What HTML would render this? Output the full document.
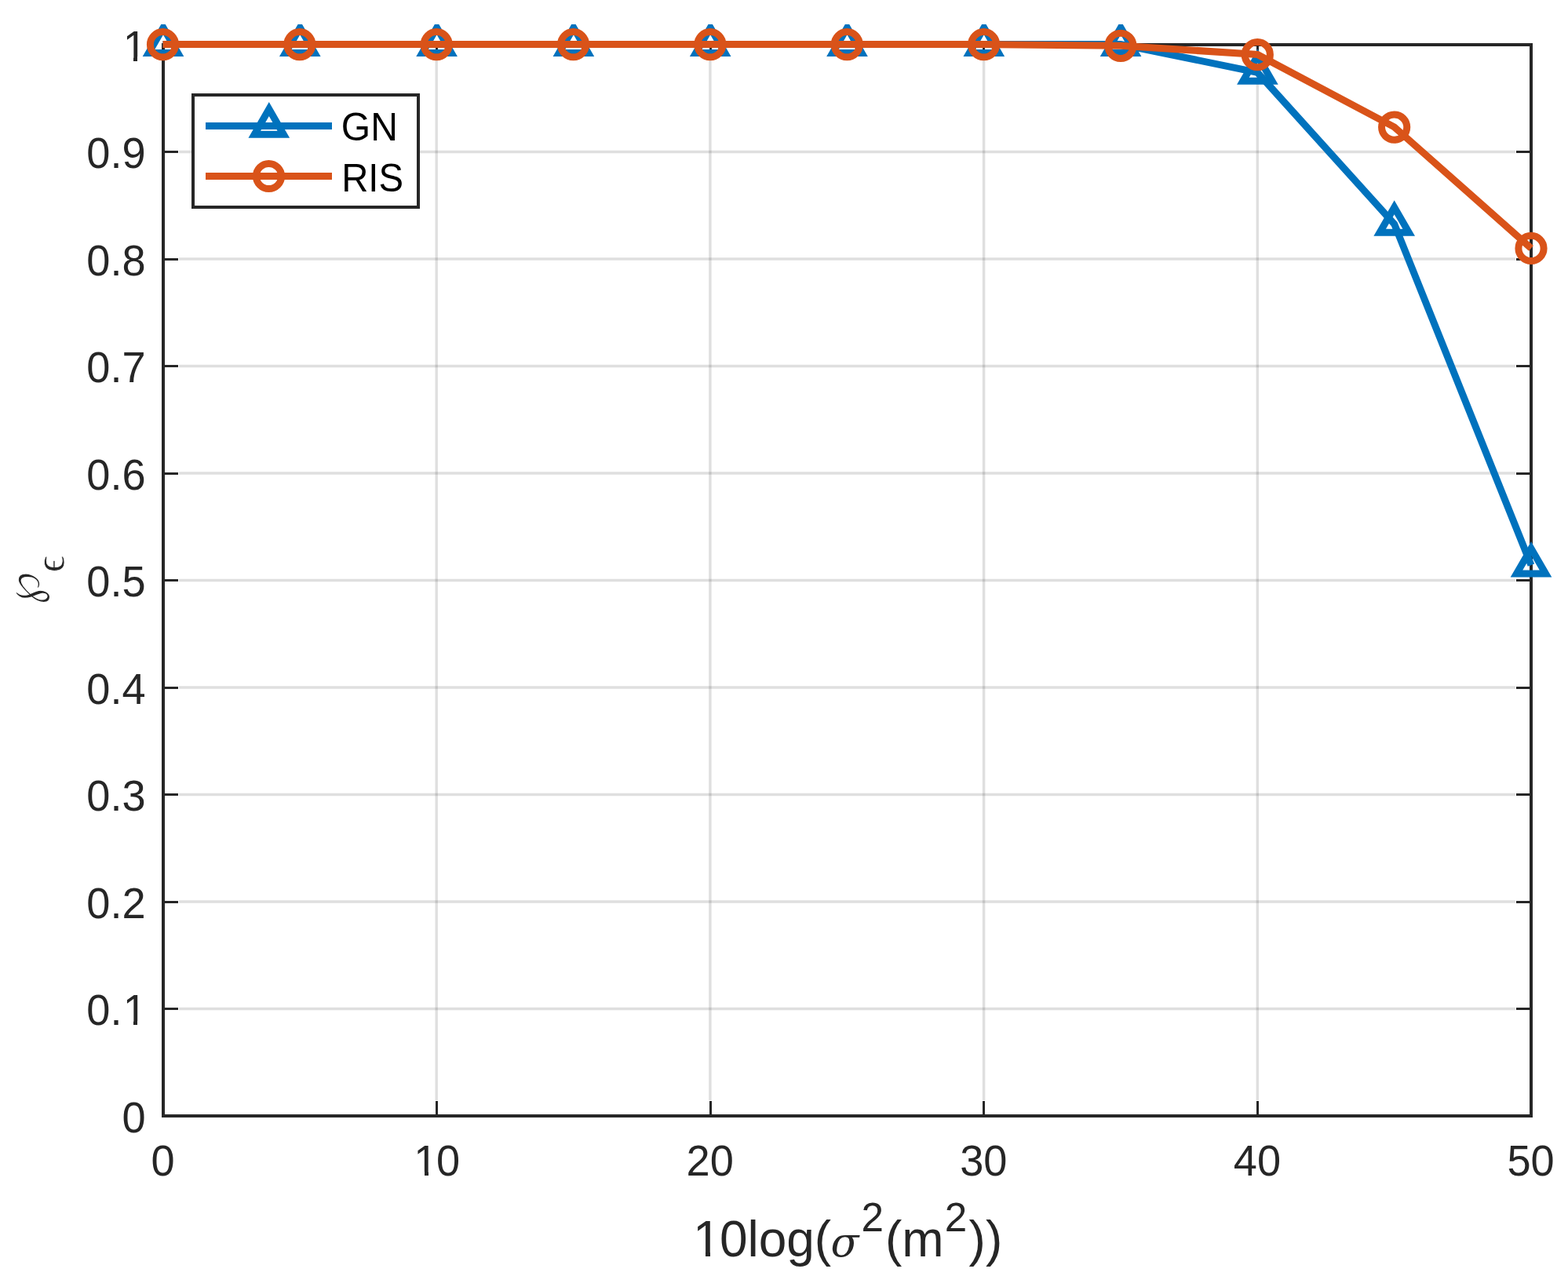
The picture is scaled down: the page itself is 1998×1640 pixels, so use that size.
<!DOCTYPE html>
<html lang="en">
<head>
<meta charset="utf-8">
<title>Success probability versus 10log(σ²(m²)) — GN vs RIS</title>
<style>
html,body{margin:0;padding:0;background:#fff;}
body{width:1998px;height:1640px;overflow:hidden;}
svg{display:block;}
text{font-family:"Liberation Sans",sans-serif;}
.tick{font-size:54.17px;fill:#262626;}
.lab{font-size:64.00px;fill:#262626;}
.leg{font-size:48.75px;fill:#000;}
.sup{font-size:51.2px;fill:#262626;}
.sig{font-family:"DejaVu Serif","Liberation Serif",serif;font-style:italic;font-size:52.7px;fill:#262626;}
.wp{font-family:"DejaVu Sans",sans-serif;font-size:61px;fill:#262626;stroke:#fff;stroke-width:1.3px;}
.eps{font-family:"Liberation Serif","DejaVu Serif",serif;font-size:52.5px;fill:#262626;stroke:#fff;stroke-width:0.6px;}
</style>
</head>
<body>
<svg width="1998" height="1640" viewBox="0 0 1998 1640">
<rect x="0" y="0" width="1998" height="1640" fill="#fff"/>
<defs><clipPath id="figclip"><rect x="0" y="31" width="1998" height="1609"/></clipPath></defs>
<g stroke="#262626" stroke-opacity="0.15" stroke-width="3.4" fill="none">
<line x1="556.20" y1="77.0" x2="556.20" y2="1402.0"/>
<line x1="904.90" y1="77.0" x2="904.90" y2="1402.0"/>
<line x1="1253.60" y1="77.0" x2="1253.60" y2="1402.0"/>
<line x1="1602.30" y1="77.0" x2="1602.30" y2="1402.0"/>
<line x1="228.0" y1="1285.50" x2="1931.0" y2="1285.50"/>
<line x1="228.0" y1="1149.00" x2="1931.0" y2="1149.00"/>
<line x1="228.0" y1="1012.50" x2="1931.0" y2="1012.50"/>
<line x1="228.0" y1="876.00" x2="1931.0" y2="876.00"/>
<line x1="228.0" y1="739.50" x2="1931.0" y2="739.50"/>
<line x1="228.0" y1="603.00" x2="1931.0" y2="603.00"/>
<line x1="228.0" y1="466.50" x2="1931.0" y2="466.50"/>
<line x1="228.0" y1="330.00" x2="1931.0" y2="330.00"/>
<line x1="228.0" y1="193.50" x2="1931.0" y2="193.50"/>
</g>
<g stroke="#262626" fill="none" shape-rendering="crispEdges">
<rect x="208.0" y="57.0" width="1743.0" height="1365.0" stroke-width="4"/>
<g stroke-width="3">
<line x1="556.5" y1="1422.0" x2="556.5" y2="1403.0"/>
<line x1="556.5" y1="57.0" x2="556.5" y2="76.0"/>
<line x1="905.1" y1="1422.0" x2="905.1" y2="1403.0"/>
<line x1="905.1" y1="57.0" x2="905.1" y2="76.0"/>
<line x1="1253.7" y1="1422.0" x2="1253.7" y2="1403.0"/>
<line x1="1253.7" y1="57.0" x2="1253.7" y2="76.0"/>
<line x1="1602.3" y1="1422.0" x2="1602.3" y2="1403.0"/>
<line x1="1602.3" y1="57.0" x2="1602.3" y2="76.0"/>
<line x1="208.0" y1="1285.5" x2="227.0" y2="1285.5"/>
<line x1="1951.0" y1="1285.5" x2="1932.0" y2="1285.5"/>
<line x1="208.0" y1="1149.0" x2="227.0" y2="1149.0"/>
<line x1="1951.0" y1="1149.0" x2="1932.0" y2="1149.0"/>
<line x1="208.0" y1="1012.5" x2="227.0" y2="1012.5"/>
<line x1="1951.0" y1="1012.5" x2="1932.0" y2="1012.5"/>
<line x1="208.0" y1="876.0" x2="227.0" y2="876.0"/>
<line x1="1951.0" y1="876.0" x2="1932.0" y2="876.0"/>
<line x1="208.0" y1="739.5" x2="227.0" y2="739.5"/>
<line x1="1951.0" y1="739.5" x2="1932.0" y2="739.5"/>
<line x1="208.0" y1="603.0" x2="227.0" y2="603.0"/>
<line x1="1951.0" y1="603.0" x2="1932.0" y2="603.0"/>
<line x1="208.0" y1="466.5" x2="227.0" y2="466.5"/>
<line x1="1951.0" y1="466.5" x2="1932.0" y2="466.5"/>
<line x1="208.0" y1="330.0" x2="227.0" y2="330.0"/>
<line x1="1951.0" y1="330.0" x2="1932.0" y2="330.0"/>
<line x1="208.0" y1="193.5" x2="227.0" y2="193.5"/>
<line x1="1951.0" y1="193.5" x2="1932.0" y2="193.5"/>
</g>
</g>
<g>
<text class="tick" text-anchor="middle" transform="translate(207.50,1497.80) scale(1.000,1.020)">0</text>
<text class="tick" transform="translate(525.98,1497.80) scale(1.000,1.020)"><tspan dx="1.3">1</tspan><tspan dx="-1.3">0</tspan></text>
<text class="tick" text-anchor="middle" transform="translate(904.70,1497.80) scale(1.000,1.020)">20</text>
<text class="tick" text-anchor="middle" transform="translate(1253.30,1497.80) scale(1.000,1.020)">30</text>
<text class="tick" text-anchor="middle" transform="translate(1601.90,1497.80) scale(1.000,1.020)">40</text>
<text class="tick" text-anchor="middle" transform="translate(1950.50,1497.80) scale(1.000,1.020)">50</text>
</g>
<g>
<text class="tick" text-anchor="end" transform="translate(185.60,1442.60) scale(1.000,1.020)">0</text>
<text class="tick" transform="translate(110.30,1306.10) scale(1.000,1.020)">0.<tspan dx="1.3">1</tspan></text>
<text class="tick" text-anchor="end" transform="translate(185.60,1169.60) scale(1.000,1.020)">0.2</text>
<text class="tick" text-anchor="end" transform="translate(185.60,1033.10) scale(1.000,1.020)">0.3</text>
<text class="tick" text-anchor="end" transform="translate(185.60,896.60) scale(1.000,1.020)">0.4</text>
<text class="tick" text-anchor="end" transform="translate(185.60,760.10) scale(1.000,1.020)">0.5</text>
<text class="tick" text-anchor="end" transform="translate(185.60,623.60) scale(1.000,1.020)">0.6</text>
<text class="tick" text-anchor="end" transform="translate(185.60,487.10) scale(1.000,1.020)">0.7</text>
<text class="tick" text-anchor="end" transform="translate(185.60,350.60) scale(1.000,1.020)">0.8</text>
<text class="tick" text-anchor="end" transform="translate(185.60,214.10) scale(1.000,1.020)">0.9</text>
<text class="tick" transform="translate(156.78,77.60) scale(1.000,1.020)">1</text>
</g>
<g>
<text class="lab" transform="translate(881.30,1601.00) scale(1.000,1.020)"><tspan dx="1.8">1</tspan><tspan dx="-1.8">0log(</tspan></text>
<text class="sig" x="1058.4" y="1601">σ</text>
<text class="sup" transform="translate(1097.40,1569.00) scale(1.000,1.020)">2</text>
<text class="lab" transform="translate(1127.90,1601.00) scale(1.000,1.020)">(m</text>
<text class="sup" transform="translate(1203.70,1569.00) scale(1.000,1.020)">2</text>
<text class="lab" transform="translate(1234.60,1601.00) scale(1.000,1.020)">))</text>
</g>
<g transform="translate(49.9,770.3) rotate(-90)">
<text class="wp" x="-0.6" y="-0.2">℘</text>
<text class="eps" x="41.1" y="31.2">ϵ</text>
</g>
<g fill="#fff" shape-rendering="crispEdges">
<rect x="529.90" y="1492.66" width="10.98" height="6.64"/><rect x="545.70" y="1492.66" width="10.55" height="6.64"/>
<rect x="159.40" y="1300.96" width="10.98" height="6.64"/><rect x="175.20" y="1300.96" width="10.55" height="6.64"/>
<rect x="159.40" y="72.46" width="10.98" height="6.64"/><rect x="175.20" y="72.46" width="10.55" height="6.64"/>
<rect x="886.46" y="1595.10" width="12.70" height="7.40"/><rect x="904.86" y="1595.10" width="12.19" height="7.40"/>
</g>
<g clip-path="url(#figclip)" fill="none">
<g stroke="#0072BD">
<polyline stroke-width="9.00" stroke-linejoin="miter" points="207.50,56.50 381.85,56.50 556.20,56.50 730.55,56.50 904.90,56.50 1079.25,56.50 1253.60,56.50 1427.95,56.50 1602.30,92.40 1776.65,285.41 1951.00,720.16"/>
<g stroke-width="9.00" stroke-linejoin="miter" stroke-miterlimit="10">
<path d="M208.00 35.30L226.53 67.40L189.47 67.40Z"/>
<path d="M382.30 35.30L400.83 67.40L363.77 67.40Z"/>
<path d="M556.60 35.30L575.13 67.40L538.07 67.40Z"/>
<path d="M730.90 35.30L749.43 67.40L712.37 67.40Z"/>
<path d="M905.20 35.30L923.73 67.40L886.67 67.40Z"/>
<path d="M1079.50 35.30L1098.03 67.40L1060.97 67.40Z"/>
<path d="M1253.80 35.30L1272.33 67.40L1235.27 67.40Z"/>
<path d="M1428.10 35.30L1446.63 67.40L1409.57 67.40Z"/>
<path d="M1602.40 71.20L1620.93 103.30L1583.87 103.30Z"/>
<path d="M1776.70 264.21L1795.23 296.31L1758.17 296.31Z"/>
<path d="M1951.00 698.96L1969.53 731.06L1932.47 731.06Z"/>
</g>
</g>
<g stroke="#D95319">
<polyline stroke-width="9.00" stroke-linejoin="miter" points="207.50,56.50 381.85,56.50 556.20,56.50 730.55,56.50 904.90,56.50 1079.25,56.50 1253.60,56.50 1427.95,58.14 1602.30,69.47 1776.65,161.88 1951.00,316.26"/>
<g stroke-width="9.00">
<circle cx="207.50" cy="56.70" r="16.1"/>
<circle cx="381.85" cy="56.70" r="16.1"/>
<circle cx="556.20" cy="56.70" r="16.1"/>
<circle cx="730.55" cy="56.70" r="16.1"/>
<circle cx="904.90" cy="56.70" r="16.1"/>
<circle cx="1079.25" cy="56.70" r="16.1"/>
<circle cx="1253.60" cy="56.70" r="16.1"/>
<circle cx="1427.95" cy="58.34" r="16.1"/>
<circle cx="1602.30" cy="69.67" r="16.1"/>
<circle cx="1776.65" cy="162.08" r="16.1"/>
<circle cx="1951.00" cy="316.46" r="16.1"/>
</g>
</g>
</g>
<g>
<rect x="246" y="121" width="287" height="143" fill="#fff" stroke="#262626" stroke-width="4" shape-rendering="crispEdges"/>
<g fill="none" stroke="#0072BD" stroke-width="9.00"><line x1="262" y1="160.5" x2="423" y2="160.5"/><path d="M342.80 139.10L361.33 171.20L324.27 171.20Z"/></g>
<g fill="none" stroke="#D95319" stroke-width="9.00"><line x1="262" y1="224.5" x2="423" y2="224.5"/><circle cx="342.50" cy="224.50" r="16.1"/></g>
<text class="leg" transform="translate(434.80,179.40) scale(0.985,1.020)">GN</text>
<text class="leg" transform="translate(435.20,243.90) scale(0.970,1.020)">RIS</text>
</g>
</svg>
</body>
</html>
